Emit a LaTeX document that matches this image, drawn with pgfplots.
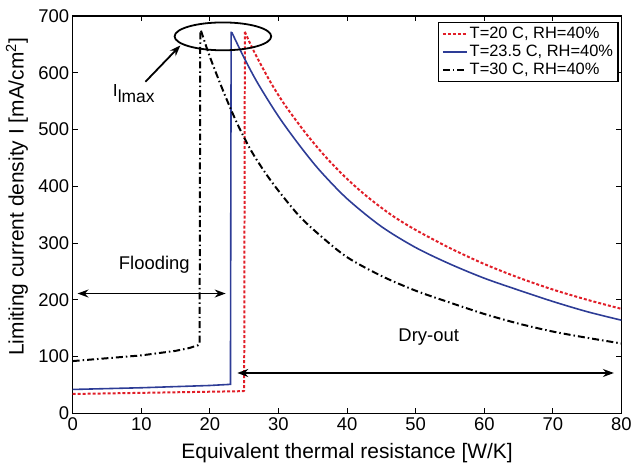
\documentclass[border=0pt]{standalone}
\usepackage{fontspec}
\setmainfont{Liberation Sans}
\usepackage{pgfplots}
\pgfplotsset{compat=1.18}
\usetikzlibrary{arrows.meta}
\definecolor{cred}{RGB}{225,30,40}
\definecolor{cblue}{RGB}{45,60,150}
\begin{document}
\begin{tikzpicture}
\begin{axis}[
  width=551pt, height=399pt, scale only axis,
  xmin=0, xmax=80, ymin=0, ymax=700,
  xtick={0,10,...,80}, ytick={0,100,...,700},
  tick align=inside, major tick length=5pt,
  tick style={black, line width=1pt},
  axis line style={line width=1.5pt},
  /pgf/number format/assume math mode=true,
  ticklabel style={font=\fontsize{18.5}{21}\selectfont},
  xticklabel style={yshift=-1pt},
  xlabel={Equivalent thermal resistance [W/K]},
  ylabel={Limiting current density I [mA/cm\textsuperscript{2}]},
  label style={font=\fontsize{21}{24}\selectfont},
  xlabel style={at={(axis description cs:0.5,-0.1)}, anchor=center},
  ylabel style={at={(axis description cs:-0.1016,0.545)}, anchor=center},
  legend style={at={(0.995,0.985)}, anchor=north east, font=\fontsize{16.5}{19}\selectfont,
    draw=black, line width=1.2pt, inner sep=3pt, row sep=1pt,
    cells={anchor=west}},
  legend cell align=left,
  legend image code/.code={\draw[#1] (0pt,0pt) -- (24pt,0pt);},
  clip=true,
]
\addplot[cred, line width=2pt, dash pattern=on 3pt off 2pt] coordinates {
(0,34) (10,36) (20,38) (24.9,39) (25.0,40) (25.1,672)};
\addlegendentry{T=20 C, RH=40\%}
\addplot[forget plot, cred, line width=2pt, dash pattern=on 3pt off 2pt, smooth] coordinates {
(25.1,672) (26,648) (27,624) (29,580) (31,542) (34,493) (37,450) (40,413) (43,381) (46.5,349) (50,323) (55,291) (60,263) (65,239) (70,218) (75,200) (80,184)};
\addplot[cblue, line width=1.6pt] coordinates {
(0,42) (10,45) (20,49) (23,51) (23.1,671) (23.2,671)};
\addlegendentry{T=23.5 C, RH=40\%}
\addplot[forget plot, cblue, line width=1.6pt, smooth] coordinates {
(23.2,671) (25,626) (27,581) (30,523) (33,473) (36,428) (40,378) (45,329) (50,292) (55,263) (60,238) (65,217) (70,197) (75,179) (80,164)};
\addplot[black, line width=2pt, dash pattern=on 7pt off 3pt on 1.5pt off 3pt] coordinates {
(0,92) (5,97) (10,102) (15,110) (17,115) (18.3,120) (18.5,122) (18.6,674) (18.7,674)};
\addlegendentry{T=30 C, RH=40\%}
\addplot[forget plot, black, line width=2pt, dash pattern=on 7pt off 3pt on 1.5pt off 3pt, smooth] coordinates {
(18.7,674) (20,628) (22,566) (24,510) (26,463) (28,425) (30,392) (33,348) (36,314) (40,275) (45,242) (50,216) (55,195) (60,175) (65,158) (70,144) (75,133) (80,123)};
\draw[black, line width=1.8pt] (axis cs:21.9,664) ellipse [x radius=48.5pt, y radius=14pt];
\draw[black, line width=1.8pt, -{Stealth[length=11pt,width=8pt]}] (axis cs:10.6,584) -- (axis cs:15.7,648);
\node[font=\fontsize{17.5}{20}\selectfont, inner sep=0pt] at (axis cs:8.9,563) {I\raisebox{-6pt}{lmax}};
\draw[black, line width=1.8pt, {Stealth[length=11pt,width=8pt]}-{Stealth[length=11pt,width=8pt]}] (axis cs:0.7,211) -- (axis cs:22.3,211);
\node[font=\fontsize{18.5}{20}\selectfont] at (axis cs:11.9,262) {Flooding};
\draw[black, line width=1.8pt, {Stealth[length=11pt,width=8pt]}-{Stealth[length=11pt,width=8pt]}] (axis cs:24,71) -- (axis cs:78.9,71);
\node[font=\fontsize{18.5}{20}\selectfont] at (axis cs:51.9,135) {Dry-out};
\end{axis}
\path ([xshift=-73pt,yshift=-52pt]current axis.south west) rectangle ([xshift=11pt,yshift=16pt]current axis.north east);
\end{tikzpicture}
\end{document}
